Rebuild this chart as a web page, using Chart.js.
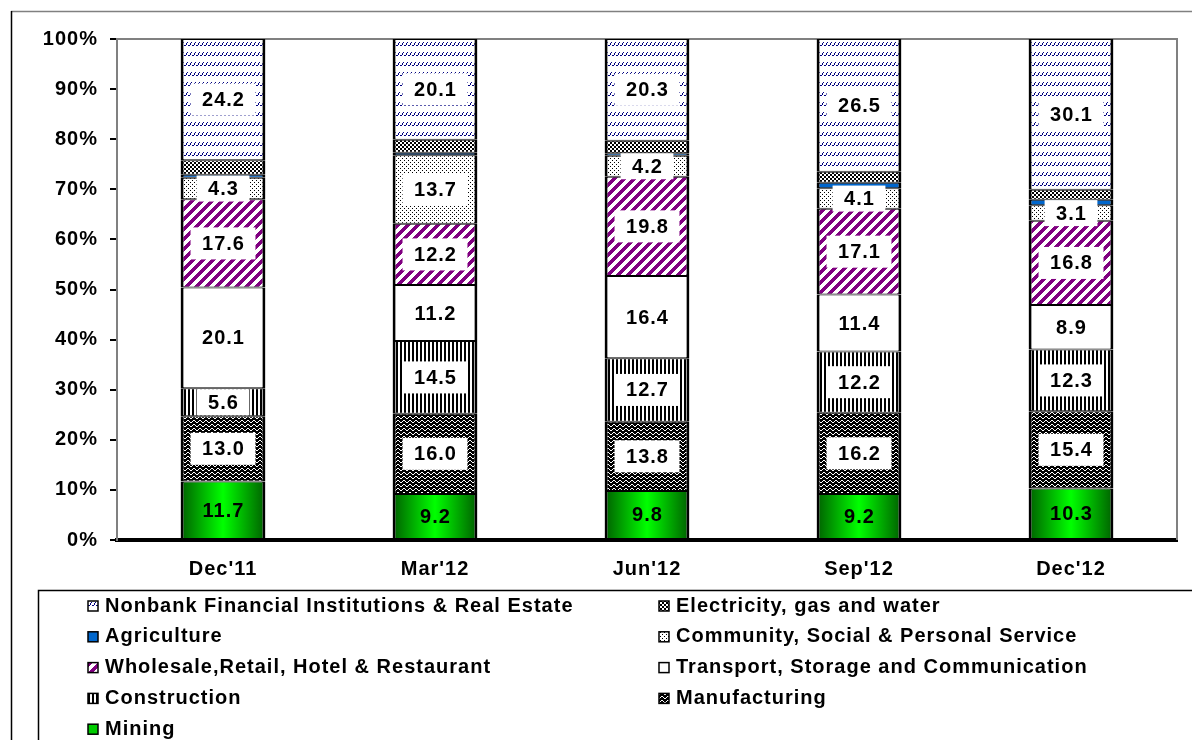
<!DOCTYPE html>
<html>
<head>
<meta charset="utf-8">
<script src="https://cdn.jsdelivr.net/npm/chart.js@4.4.1/dist/chart.umd.min.js"></script>
<style>
  html, body { margin: 0; padding: 0; background: #fff; }
  canvas { display: block; }
</style>
</head>
<body>
<canvas id="sectorChart" width="1192" height="740"></canvas>
<script>
// quarters on the x axis
const quarters = ["Dec'11", "Mar'12", "Jun'12", "Sep'12", "Dec'12"];

// share of each sector, % (bottom of the stack first)
const mining        = [11.7,  9.2,  9.8,  9.2, 10.3];
const manufacturing = [13.0, 16.0, 13.8, 16.2, 15.4];
const construction  = [ 5.6, 14.5, 12.7, 12.2, 12.3];
const transport     = [20.1, 11.2, 16.4, 11.4,  8.9];
const wholesale     = [17.6, 12.2, 19.8, 17.1, 16.8];
const community     = [ 4.3, 13.7,  4.2,  4.1,  3.1];
const agriculture   = [ 0.6,  0.5,  0.5,  1.1,  1.1];
const electricity   = [ 2.9,  2.6,  2.5,  2.2,  2.0];
const nonbank       = [24.2, 20.1, 20.3, 26.5, 30.1];

const yTicks = ['0%', '10%', '20%', '30%', '40%', '50%', '60%', '70%', '80%', '90%', '100%'];

const FONT = '"Liberation Sans", Arial, sans-serif';
const SPACING = '1px';
Chart.defaults.font.family = FONT;
Chart.defaults.font.weight = 'bold';
Chart.defaults.font.size = 20;
Chart.defaults.color = '#000';

const canvas = document.getElementById('sectorChart');
const ctx = canvas.getContext('2d');

// small repeating tiles for the hatch fills
function tile(w, h, draw) {
  const c = document.createElement('canvas');
  c.width = w; c.height = h;
  const g = c.getContext('2d');
  draw(g);
  return ctx.createPattern(c, 'repeat');
}

const nonbankFill = tile(4, 10, g => {
  g.fillStyle = '#fff'; g.fillRect(0, 0, 4, 10);
  g.fillStyle = '#000080';
  [[3, 2], [2, 3], [2, 4], [1, 5], [0, 5]].forEach(p => g.fillRect(p[0], p[1], 1, 1));
});
const checkerFill = tile(4, 4, g => {
  g.fillStyle = '#fff'; g.fillRect(0, 0, 4, 4);
  g.fillStyle = '#000'; g.fillRect(0, 0, 2, 2); g.fillRect(2, 2, 2, 2);
});
const dotFill = tile(4, 4, g => {
  g.fillStyle = '#fff'; g.fillRect(0, 0, 4, 4);
  g.fillStyle = '#000'; g.fillRect(0, 0, 1, 1); g.fillRect(2, 2, 1, 1);
});
const stripeFill = tile(10, 10, g => {
  g.fillStyle = '#fff'; g.fillRect(0, 0, 10, 10);
  g.fillStyle = '#800080';
  for (let x = 0; x < 10; x++)
    for (let y = 0; y < 10; y++)
      if ((x + y) % 10 < 5) g.fillRect(x, y, 1, 1);
});
const verticalFill = tile(4, 1, g => {
  g.fillStyle = '#fff'; g.fillRect(0, 0, 4, 1);
  g.fillStyle = '#000'; g.fillRect(0, 0, 2, 1);
});
const waveFill = tile(6, 4, g => {
  g.fillStyle = '#000'; g.fillRect(0, 0, 6, 4);
  g.fillStyle = '#fff';
  [[0, 1], [1, 0], [2, 0], [3, 1], [4, 2], [5, 2]].forEach(p => g.fillRect(p[0], p[1], 1, 1));
});

// mining bars get a dark-bright-dark green gradient across the bar
function miningFill(c) {
  const xs = c.chart.scales.x;
  if (!xs || c.dataIndex === undefined) return '#00cc00';
  const cx = xs.getPixelForValue(c.dataIndex);
  const half = xs.width / quarters.length * 0.4 / 2;
  if (!isFinite(cx) || !isFinite(half) || half <= 0) return '#00cc00';
  const gr = c.chart.ctx.createLinearGradient(cx - half, 0, cx + half, 0);
  gr.addColorStop(0, '#006000');
  gr.addColorStop(0.5, '#00ff00');
  gr.addColorStop(1, '#006000');
  return gr;
}

const spacing = {
  id: 'spacing',
  beforeUpdate(chart) { chart.ctx.letterSpacing = SPACING; },
  beforeDraw(chart) {
    const c = chart.ctx;
    c.letterSpacing = SPACING;
    c.save();
    c.fillStyle = '#fff';
    c.fillRect(0, 0, chart.width, chart.height);
    c.restore();
  }
};

const frame = {
  id: 'frame',
  beforeDatasetsDraw(chart) {
    const c = chart.ctx, a = chart.chartArea;
    c.save();
    c.strokeStyle = '#808080';
    c.lineWidth = 2;
    c.beginPath();
    c.moveTo(a.left, a.top); c.lineTo(a.right, a.top); c.lineTo(a.right, a.bottom);
    c.stroke();
    c.restore();
  },
  afterDraw(chart) {
    const c = chart.ctx;
    c.save();
    c.lineWidth = 1.5;
    c.strokeStyle = '#808080';
    c.beginPath(); c.moveTo(11, 11.5); c.lineTo(chart.width, 11.5); c.stroke();
    c.strokeStyle = '#000';
    c.beginPath(); c.moveTo(11.5, 11); c.lineTo(11.5, chart.height); c.stroke();
    c.beginPath(); c.moveTo(chart.width, 590.5); c.lineTo(38.5, 590.5); c.lineTo(38.5, chart.height); c.stroke();
    c.restore();
  }
};

// value labels; white box behind them except on the green mining bars
const segmentLabels = {
  id: 'segmentLabels',
  afterDatasetsDraw(chart) {
    const c = chart.ctx;
    c.save();
    c.font = 'bold 20px ' + FONT;
    c.textAlign = 'center';
    c.textBaseline = 'middle';
    chart.data.datasets.forEach((ds, i) => {
      if (!ds.showValues) return;
      chart.getDatasetMeta(i).data.forEach((bar, j) => {
        const txt = ds.data[j].toFixed(1);
        const cy = (bar.y + bar.base) / 2;
        const segH = Math.abs(bar.base - bar.y);
        if (ds.boxed !== false) {
          const w = c.measureText(txt).width + 22;
          const h = Math.max(Math.min(32, segH - 2), 26);
          c.fillStyle = '#fff';
          c.fillRect(bar.x - w / 2, cy - h / 2, w, h);
        }
        c.fillStyle = '#000';
        c.fillText(txt, bar.x + 0.5, cy + 1);
      });
    });
    c.restore();
  }
};

const boxLegend = {
  id: 'boxLegend',
  afterDraw(chart) {
    const c = chart.ctx;
    const items = chart.data.datasets.slice().reverse();
    c.save();
    c.font = 'bold 20px ' + FONT;
    c.textBaseline = 'middle';
    c.textAlign = 'left';
    items.forEach((ds, k) => {
      const x = (k % 2) ? 659 : 88;
      const y = 606 + Math.floor(k / 2) * 30.8;
      c.fillStyle = ds.swatch || ds.backgroundColor;
      c.fillRect(x, y - 5, 10, 10);
      c.strokeStyle = '#000';
      c.lineWidth = 1.5;
      c.strokeRect(x, y - 5, 10, 10);
      c.fillStyle = '#000';
      c.fillText(ds.label, x + 17, y);
    });
    c.restore();
  }
};

const bars = {
  borderColor: '#000',
  borderWidth: { top: 1, bottom: 1, left: 3, right: 3 },
  borderSkipped: false
};

new Chart(ctx, {
  type: 'bar',
  data: {
    labels: quarters,
    datasets: [
      { label: 'Mining', data: mining, backgroundColor: miningFill, swatch: '#00cc00', showValues: true, boxed: false, ...bars },
      { label: 'Manufacturing', data: manufacturing, backgroundColor: waveFill, showValues: true, ...bars },
      { label: 'Construction', data: construction, backgroundColor: verticalFill, showValues: true, ...bars },
      { label: 'Transport, Storage and Communication', data: transport, backgroundColor: '#fff', showValues: true, ...bars },
      { label: 'Wholesale,Retail, Hotel & Restaurant', data: wholesale, backgroundColor: stripeFill, showValues: true, ...bars },
      { label: 'Community, Social & Personal Service', data: community, backgroundColor: dotFill, showValues: true, ...bars },
      { label: 'Agriculture', data: agriculture, backgroundColor: '#0066cc', showValues: false, ...bars },
      { label: 'Electricity, gas and water', data: electricity, backgroundColor: checkerFill, showValues: false, ...bars },
      { label: 'Nonbank Financial Institutions & Real Estate', data: nonbank, backgroundColor: nonbankFill, showValues: true, ...bars }
    ]
  },
  options: {
    responsive: false,
    animation: false,
    devicePixelRatio: 1,
    layout: { padding: { top: 39, right: 15, left: 0, bottom: 0 } },
    datasets: { bar: { categoryPercentage: 1, barPercentage: 0.4 } },
    plugins: {
      legend: { display: false },
      tooltip: { enabled: false }
    },
    scales: {
      x: {
        stacked: true,
        grid: { display: false, drawTicks: false },
        border: { color: '#000', width: 4 },
        ticks: { padding: 17 },
        afterFit: s => { s.height = 200; }
      },
      y: {
        stacked: true,
        min: 0,
        max: 100,
        ticks: { stepSize: 10, padding: 12, callback: v => yTicks[v / 10] },
        grid: { drawOnChartArea: false, drawTicks: true, tickLength: 7, color: '#000', lineWidth: 2 },
        border: { color: '#808080', width: 2 },
        afterFit: s => { s.width = 117; }
      }
    }
  },
  plugins: [spacing, frame, segmentLabels, boxLegend]
});
</script>
</body>
</html>
